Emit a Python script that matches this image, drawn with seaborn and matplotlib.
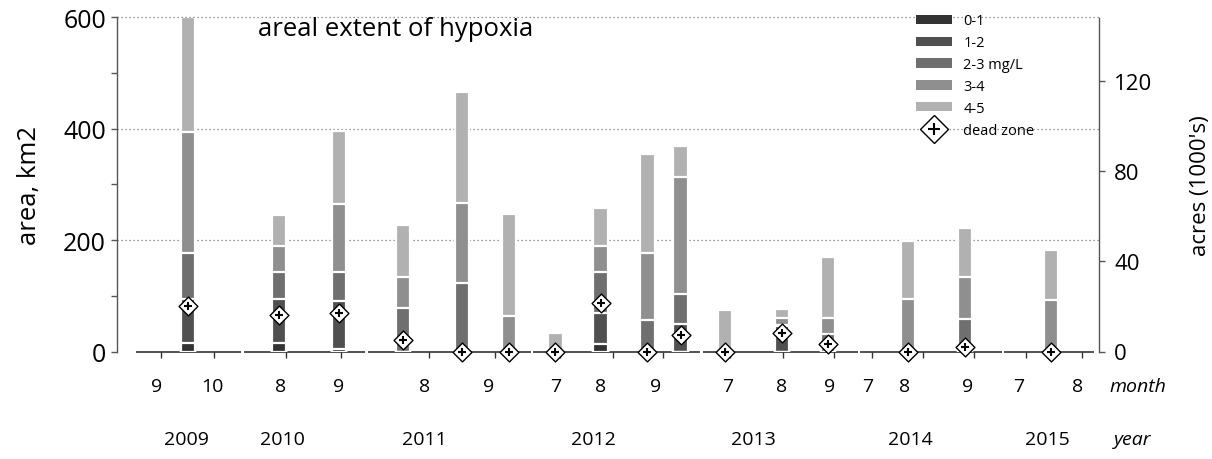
import numpy as np
import pandas as pd
import matplotlib
matplotlib.use("Agg")
import matplotlib.pyplot as plt
import seaborn as sns
from matplotlib.patches import Patch
from matplotlib.lines import Line2D
from matplotlib.legend_handler import HandlerTuple

# survey slot along the compressed season axis (one slot ~ one week)
survey_pos = [6, 14, 19.2, 24.8, 30, 34.1, 38.15, 42.1, 46.2, 49.1, 53, 58, 62, 69, 74, 81.5]

# area (km2) with dissolved oxygen below each threshold (cumulative)
below_1 = [15, 15, 5, 0, 0, 0, 0, 14, 0, 0, 0, 0, 0, 0, 0, 0]
below_2 = [95, 95, 90, 0, 0, 0, 0, 70, 0, 50, 0, 46, 0, 0, 0, 0]
below_3 = [177, 143, 142, 79, 123, 0, 0, 142, 57, 103, 0, 48, 31, 0, 58, 0]
below_4 = [395, 190, 265, 133, 267, 63, 0, 189, 177, 313, 0, 61, 60, 95, 134, 92]
below_5 = [600, 246, 397, 227, 467, 247, 33, 257, 355, 370, 75, 76, 169, 199, 222, 182]
dead_zone = [82, 66, 70, 21, 0, 0, 0, 88, 0, 30, 0, 34, 13, 0, 8, 0]

# axis labels
month_pos = [3.3, 8.1, 14.1, 19.2, 26.7, 32.3, 38.2, 42.1, 46.9, 53.2, 57.9, 62.1, 65.5, 68.7, 74.2, 78.7, 83.8]
month_lbl = ['9', '10', '8', '9', '8', '9', '7', '8', '9', '7', '8', '9', '7', '8', '9', '7', '8']
month_ticks = [3.64, 8.27, 14.57, 19.39, 27.09, 32.86, 38.55, 43.18, 47.56, 53.42,
               58.05, 62.52, 65.84, 70.30, 74.77, 79.32, 84.22]
year_pos = [5.9, 14.3, 26.65, 41.5, 55.5, 69.2, 81.2]
year_lbl = ['2009', '2010', '2011', '2012', '2013', '2014', '2015']
year_edges = [1.3, 10.8, 21.6, 36.1, 50.9, 64.7, 77.3, 85.35]

KM2_TO_KACRES = 0.247105

df = pd.DataFrame({'pos': survey_pos, 'lt1': below_1, 'lt2': below_2, 'lt3': below_3,
                   'lt4': below_4, 'lt5': below_5, 'dead': dead_zone})

sns.set_theme(style='white')
plt.rcParams['font.family'] = ['Open Sans', 'DejaVu Sans']
plt.rcParams.update({'text.color': 'black', 'axes.labelcolor': 'black',
                     'xtick.color': 'black', 'ytick.color': 'black'})

fig = plt.figure(figsize=(12.12, 4.6), dpi=100)
ax = fig.add_axes([117 / 1212, 1 - 352.5 / 460, 982 / 1212, 334 / 460])

layers = [('lt5', '#b1b1b1', '4-5'), ('lt4', '#8f8f8f', '3-4'), ('lt3', '#6f6f6f', '2-3 mg/L'),
          ('lt2', '#505050', '1-2'), ('lt1', '#333333', '0-1')]
bar_w = 1.25
spacing = np.diff(np.sort(df['pos'].values)).min()
for col, c, _ in layers:
    sns.barplot(data=df, x='pos', y=col, native_scale=True, color=c, saturation=1,
                width=bar_w / spacing, edgecolor='white', linewidth=1.6,
                errorbar=None, ax=ax, zorder=2)

# baseline, broken between years
ax.hlines([0] * (len(year_edges) - 1), np.array(year_edges[:-1]) + 0.12,
          np.array(year_edges[1:]) - 0.12, color='#333333', lw=1.2, zorder=1.5, clip_on=False)

# dotted gridlines
ax.hlines([200, 400, 600], -0.2, 85.7, color='#777777', lw=0.9, linestyles=(0, (1, 2.2)),
          zorder=0.5, clip_on=False)

# dead zone markers
sns.scatterplot(data=df, x='pos', y='dead', marker='D', s=92, color='white',
                edgecolor='black', linewidth=1.0, zorder=5, ax=ax, clip_on=False, legend=False)
sns.scatterplot(data=df, x='pos', y='dead', marker='+', s=40, color='black',
                linewidth=1.5, zorder=6, ax=ax, clip_on=False, legend=False)

ax.set_xlim(-0.2, 85.7)
ax.set_ylim(0, 600)
ax.set_yticks([0, 200, 400, 600])
ax.set_yticks([100, 300, 500], minor=True)
ax.set_xticks(month_ticks)
ax.set_xticklabels([])
ax.set_xlabel('')
ax.tick_params(axis='y', which='both', direction='out', length=4, width=1, color='#555555',
               labelcolor='black', labelsize=18, pad=4, left=True)
ax.tick_params(axis='x', direction='out', length=4, width=1, color='#333333', bottom=True)
ax.grid(False)
for s in ['top', 'bottom', 'right']:
    ax.spines[s].set_visible(False)
ax.spines['left'].set_color('#555555')
ax.spines['left'].set_linewidth(1)

ax.set_ylabel('area, km2', fontsize=18.5)
ax.yaxis.set_label_coords(-0.0765, 0.5)

trans = ax.get_xaxis_transform()
for p, l in zip(month_pos, month_lbl):
    ax.text(p, -0.102, l, transform=trans, ha='center', va='center', fontsize=14)
for p, l in zip(year_pos, year_lbl):
    ax.text(p, -0.262, l, transform=trans, ha='center', va='center', fontsize=14)
ax.text(1.0395, -0.102, 'month', transform=ax.transAxes, ha='center', va='center',
        fontsize=14, style='italic')
ax.text(1.034, -0.262, 'year', transform=ax.transAxes, ha='center', va='center',
        fontsize=14, style='italic')

ax.text(0.1436, 0.966, 'areal extent of hypoxia', transform=ax.transAxes,
        ha='left', va='center', fontsize=18.5)

# secondary axis in thousands of acres
ax2 = ax.twinx()
ax2.set_ylim(0, 600 * KM2_TO_KACRES)
ax2.set_yticks([0, 40, 80, 120])
ax2.tick_params(axis='y', direction='out', length=4, width=1, color='#555555',
                labelcolor='black', labelsize=16, pad=7, right=True)
for s in ['top', 'bottom', 'left']:
    ax2.spines[s].set_visible(False)
ax2.spines['right'].set_color('#555555')
ax2.spines['right'].set_linewidth(1)
ax2.set_ylabel('acres (1000\'s)', fontsize=16)
ax2.yaxis.set_label_coords(1.0927, 0.5)
ax2.grid(False)

# legend
handles = [Patch(facecolor=c, edgecolor='none') for _, c, _ in layers[::-1]]
labels = [l for _, _, l in layers[::-1]]
dz_handle = (Line2D([], [], marker='D', ls='none', ms=14.5, mfc='white', mec='black', mew=1.0),
             Line2D([], [], marker='+', ls='none', ms=8, mec='black', mew=1.5))
handles.append(dz_handle)
labels.append('dead zone')
leg = ax.legend(handles, labels, loc='upper left', bbox_to_anchor=(0.8136, 1.012),
                frameon=False, fontsize=10.5, handlelength=2.45, handleheight=0.6,
                labelspacing=0.47, handletextpad=0.8, borderpad=0, borderaxespad=0,
                handler_map={tuple: HandlerTuple(ndivide=1)})

fig.savefig('out.png', dpi=100)
